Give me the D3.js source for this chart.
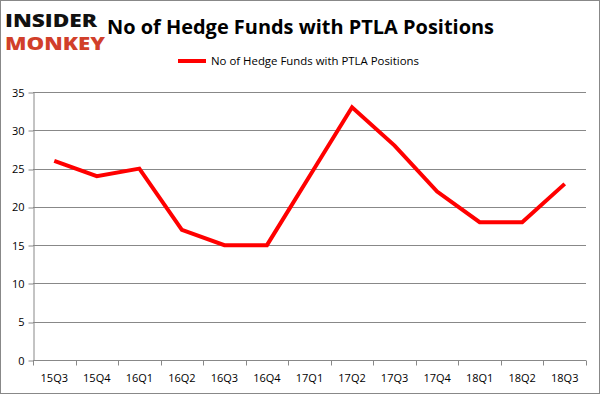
<!DOCTYPE html>
<html>
<head>
<meta charset="utf-8">
<script src="https://cdn.jsdelivr.net/npm/d3@7"></script>
<style>
  body { margin: 0; background: #fff; }
  text { font-family: "Open Sans", "Liberation Sans", sans-serif; }
</style>
</head>
<body>
<div id="chart"></div>
<script>
// data
const quarters = ["15Q3", "15Q4", "16Q1", "16Q2", "16Q3", "16Q4", "17Q1", "17Q2", "17Q3", "17Q4", "18Q1", "18Q2", "18Q3"]
const funds = [26, 24, 25, 17, 15, 15, 24, 33, 28, 22, 18, 18, 23]
const yTicks = [0, 5, 10, 15, 20, 25, 30, 35]
const seriesName = "No of Hedge Funds with PTLA Positions"

const width = 601
const height = 396
const margin = { top: 92, bottom: 36, left: 33, right: 15 }

const svg = d3.select("#chart").append("svg").attr("width", width).attr("height", height)

// outer frame
svg.append("rect")
    .attr("x", 0.5).attr("y", 0.5)
    .attr("width", width - 2).attr("height", height - 3)
    .attr("fill", "#fff").attr("stroke", "#888")

const x = d3.scaleBand().domain(quarters).range([margin.left, width - margin.right])
const y = d3.scaleLinear().domain([0, 35]).range([height - margin.bottom, margin.top])

// gridlines
svg.append("g").selectAll("line").data(yTicks.filter(d => d > 0)).join("line")
    .attr("x1", margin.left).attr("x2", width - margin.right)
    .attr("y1", d => Math.round(y(d)) + 0.5).attr("y2", d => Math.round(y(d)) + 0.5)
    .attr("stroke", "#888").attr("stroke-width", 1)

// axes
const yAxis = svg.append("g")
    .attr("transform", `translate(${margin.left + 0.5},0.5)`)
    .call(d3.axisLeft(y).tickValues(yTicks).tickSize(5).tickSizeOuter(0))
yAxis.select(".domain").attr("stroke", "#888")
yAxis.selectAll(".tick line").attr("stroke", "#888").attr("transform", d => `translate(0,${Math.round(y(d)) - y(d)})`)
yAxis.selectAll(".tick text").attr("font-size", 11).attr("fill", "#000").attr("x", -9)

const xAxisG = svg.append("g")
    .attr("transform", `translate(0,${Math.round(y(0)) + 0.5})`)
xAxisG.append("line")
    .attr("x1", margin.left).attr("x2", width - margin.right)
    .attr("stroke", "#888")
const edges = quarters.map(q => x(q)).concat([x.range()[1]])
xAxisG.selectAll(".tk").data(edges).join("line")
    .attr("x1", d => Math.round(d) + 0.5).attr("x2", d => Math.round(d) + 0.5)
    .attr("y1", 0).attr("y2", 5)
    .attr("stroke", "#888")
xAxisG.selectAll(".lbl").data(quarters).join("text")
    .attr("x", d => x(d) + x.bandwidth() / 2)
    .attr("y", 21)
    .attr("text-anchor", "middle")
    .attr("font-size", 11)
    .text(d => d)

// line
const line = d3.line()
    .x((d, i) => x(quarters[i]) + x.bandwidth() / 2)
    .y(d => y(d))
svg.append("path").datum(funds)
    .attr("d", line)
    .attr("fill", "none")
    .attr("stroke", "#ff0000")
    .attr("stroke-width", 4)
    .attr("stroke-linejoin", "miter")

// title
svg.append("text")
    .attr("x", 107).attr("y", 34)
    .attr("font-size", 20).attr("font-weight", "bold")
    .attr("textLength", 387).attr("lengthAdjust", "spacingAndGlyphs")
    .text(seriesName)

// legend
svg.append("line")
    .attr("x1", 178).attr("x2", 206).attr("y1", 61).attr("y2", 61)
    .attr("stroke", "#ff0000").attr("stroke-width", 4)
svg.append("text")
    .attr("x", 211).attr("y", 65)
    .attr("font-size", 11)
    .attr("textLength", 208).attr("lengthAdjust", "spacingAndGlyphs")
    .text(seriesName)

// logo
svg.append("text")
    .attr("x", 5).attr("y", 27)
    .attr("font-size", 17.5).attr("font-weight", "900")
    .attr("font-family", "DejaVu Sans")
    .attr("textLength", 92).attr("lengthAdjust", "spacingAndGlyphs")
    .attr("fill", "#111")
    .text("INSIDER")
svg.append("text")
    .attr("x", 5).attr("y", 50)
    .attr("font-size", 17.5).attr("font-weight", "900")
    .attr("font-family", "DejaVu Sans")
    .attr("textLength", 100).attr("lengthAdjust", "spacingAndGlyphs")
    .attr("fill", "#d13f2a")
    .text("MONKEY")
</script>
</body>
</html>
